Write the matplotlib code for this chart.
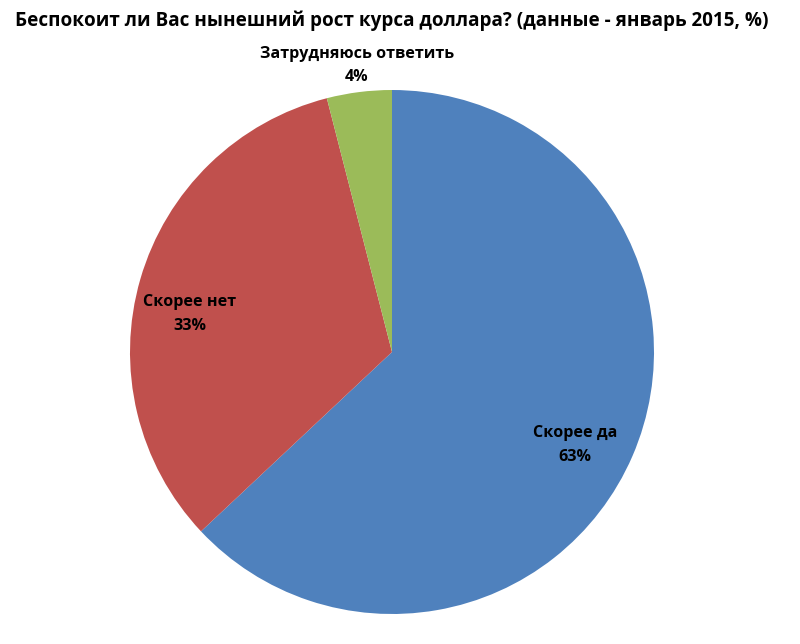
import matplotlib
matplotlib.use("Agg")
import matplotlib.pyplot as plt
from matplotlib import font_manager

categories = ["Скорее да", "Скорее нет", "Затрудняюсь ответить"]
values = [63, 33, 4]
colors = ["#4F81BD", "#C0504D", "#9BBB59"]
label_pos = [(0.698, -0.355), (-0.771, 0.145), (-0.134, 1.092)]
title = "Беспокоит ли Вас нынешний рост курса доллара? (данные - январь 2015, %)"

avail = {f.name for f in font_manager.fontManager.ttflist}
fam = [f for f in ["Liberation Sans Narrow", "Open Sans", "DejaVu Sans"] if f in avail]
plt.rcParams["font.family"] = fam

W, H = 800, 644
fig = plt.figure(figsize=(W / 100, H / 100), dpi=100)
cx, cy, r = 392, H - 352, 262
half = 280
ax = fig.add_axes([(cx - half) / W, (cy - half) / H, 2 * half / W, 2 * half / H])
ax.pie(values, colors=colors, startangle=90, counterclock=False, radius=1,
       wedgeprops=dict(linewidth=0))
lim = half / r
ax.set_xlim(-lim, lim)
ax.set_ylim(-lim, lim)
ax.set_aspect("equal")
ax.axis("off")

for cat, v, (x, y) in zip(categories, values, label_pos):
    ax.text(x, y, f"{cat}\n{v}%", ha="center", va="center", fontsize=11.6,
            fontweight="bold", linespacing=1.6, clip_on=False, color="black")

fig.text(391.5 / W, 1 - 21 / H, title, ha="center", va="center", fontsize=13.6,
         fontweight="bold")

fig.savefig("out.png", dpi=100, facecolor="white")
